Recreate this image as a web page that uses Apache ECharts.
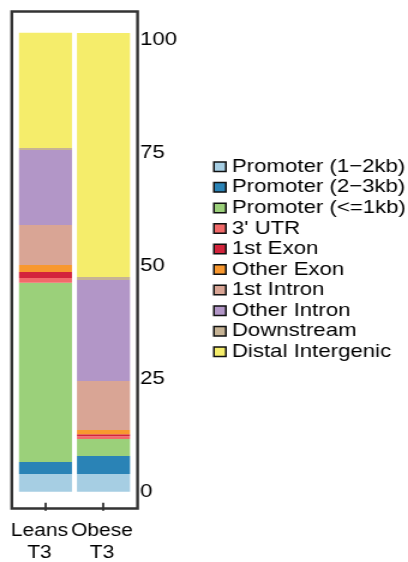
<!DOCTYPE html>
<html>
<head>
<meta charset="utf-8">
<script src="https://cdn.jsdelivr.net/npm/echarts@6/dist/echarts.min.js"></script>
<style>
  html, body { margin: 0; padding: 0; background: #fff; overflow: hidden; }
  #c { width: 340px; height: 562px; transform: scaleX(1.2); transform-origin: 0 0; }
</style>
</head>
<body>
<div id="c"></div>
<script>
// Categories
const categories = ['Leans\nT3', 'Obese\nT3'];
// Feature names (legend order, bottom of stack first)
const featureNames = ['Promoter (1\u22122kb)', 'Promoter (2\u22123kb)', 'Promoter (<=1kb)', "3' UTR", '1st Exon',
  'Other Exon', '1st Intron', 'Other Intron', 'Downstream', 'Distal Intergenic'];
// Percentages per feature: [Leans T3, Obese T3]
const promoter1to2kb = [3.9, 3.9];
const promoter2to3kb = [2.66, 3.98];
const promoterLe1kb = [39.7, 3.76];
const utr3 = [1.04, 0.66];
const firstExon = [1.33, 0.44];
const otherExon = [1.55, 0.89];
const firstIntron = [8.86, 10.85];
const otherIntron = [16.6, 22.4];
const downstream = [0.44, 0.66];
const distalIntergenic = [25.5, 54.0];
// Y tick labels
const yTicks = [0, 25, 50, 75, 100];

const seriesValues = [promoter1to2kb, promoter2to3kb, promoterLe1kb, utr3, firstExon,
  otherExon, firstIntron, otherIntron, downstream, distalIntergenic];
const colors = ['#a6cee3', '#2a83b6', '#9bd07a', '#f26a6a', '#d3243c',
  '#f8982f', '#d9a595', '#b296c7', '#c6b395', '#f5ed6b'];

const totals = categories.map((_, i) => seriesValues.reduce((s, a) => s + a[i], 0));
const yMax = Math.max(...totals);

const FONT = 'Liberation Sans, Arial, Helvetica, sans-serif';
const chart = echarts.init(document.getElementById('c'), null, { renderer: 'canvas' });

chart.setOption({
  animation: false,
  color: colors,
  textStyle: { fontFamily: FONT },
  grid: [
    { left: 13.7, width: 96.7, top: 32.8, bottom: 70.3, containLabel: false },
    { left: 13.7, width: 96.7, top: 32.8, bottom: 52.8, containLabel: false }
  ],
  graphic: [{
    type: 'rect',
    shape: { x: 9.8, y: 11.5, width: 104.8, height: 497 },
    style: { fill: 'none', stroke: '#333', lineWidth: 2.4 },
    z: 10
  }],
  legend: {
    orient: 'vertical',
    left: 177.5,
    top: 156.5,
    padding: 0,
    icon: 'rect',
    itemWidth: 10,
    itemHeight: 9.5,
    itemGap: 0,
    selectedMode: false,
    itemStyle: { borderColor: '#111', borderWidth: 1.5 },
    textStyle: { fontSize: 18.5, color: '#000', fontFamily: FONT, lineHeight: 20.55 },
    data: featureNames
  },
  xAxis: [{
    type: 'category',
    gridIndex: 0,
    data: categories,
    axisLine: { show: false },
    axisTick: { show: false },
    axisLabel: { show: false }
  }, {
    type: 'category',
    gridIndex: 1,
    data: categories,
    position: 'bottom',
    axisLine: { show: false },
    axisTick: { show: true, length: 8, alignWithLabel: true, lineStyle: { color: '#333', width: 1.8 } },
    axisLabel: {
      interval: 0,
      margin: 18,
      formatter: (v, i) => v.split('\n').map(s => '{' + (i === 0 ? 'a' : 'b') + '|' + s + '}').join('\n'),
      rich: {
        a: { fontSize: 17.5, color: '#000', lineHeight: 21.5, fontFamily: FONT, padding: [0, 10, 0, 0] },
        b: { fontSize: 17.5, color: '#000', lineHeight: 21.5, fontFamily: FONT, padding: [0, 2.5, 0, 0] }
      }
    }
  }],
  yAxis: [{
    type: 'value',
    gridIndex: 0,
    position: 'right',
    min: 0,
    max: yMax,
    interval: 25,
    splitLine: { show: false },
    axisLine: { show: false },
    axisTick: { show: false },
    axisLabel: {
      fontSize: 18.5, color: '#000', margin: 6.3, fontFamily: FONT,
      showMaxLabel: false,
      formatter: v => (yTicks.indexOf(v) >= 0 ? String(v) : '')
    }
  }, {
    type: 'value',
    gridIndex: 1,
    show: false
  }],
  series: featureNames.map((name, k) => ({
    name: name,
    type: 'bar',
    stack: 'total',
    xAxisIndex: 0,
    yAxisIndex: 0,
    barWidth: 44.2,
    data: seriesValues[k],
    itemStyle: { color: colors[k] }
  }))
});
</script>
</body>
</html>
